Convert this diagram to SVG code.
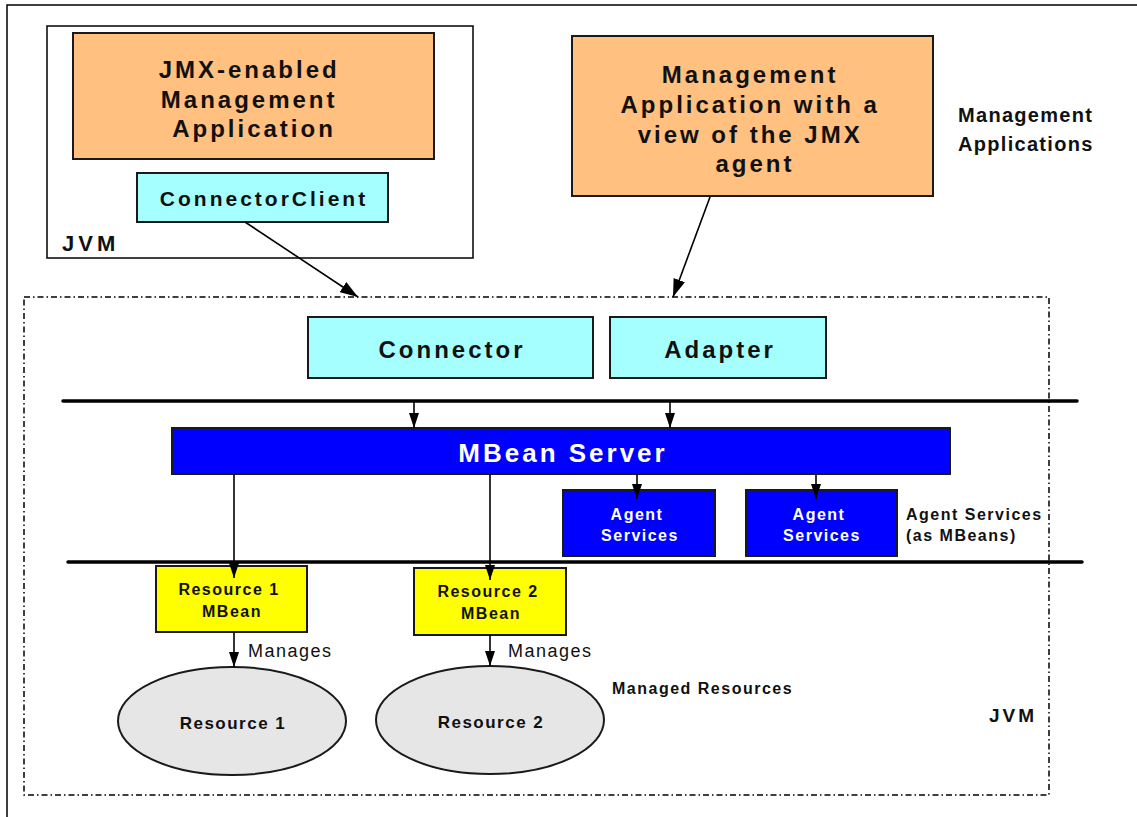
<svg xmlns="http://www.w3.org/2000/svg" width="1137" height="817" viewBox="0 0 1137 817">
  <style>
    .box { stroke: #1a1a1a; stroke-width: 2; }
    .orange { fill: #FFC080; }
    .cyan { fill: #A6FFFF; }
    .blue { fill: #0000FF; }
    .yellow { fill: #FFFF00; }
    .res { fill: #E6E6E6; stroke: #1a1a1a; stroke-width: 2; }
    .t { font-family: "Liberation Sans", Arial, sans-serif; font-weight: bold; fill: #111; }
    .big { font-size: 24px; letter-spacing: 3px; }
    .mid { font-size: 21px; letter-spacing: 3px; }
    .sm { font-size: 16px; letter-spacing: 1.5px; }
    .white { fill: #ffffff; }
    .reg { font-family: "Liberation Sans", Arial, sans-serif; font-size: 18px; letter-spacing: 1.5px; fill: #111; }
    .wire { stroke: #000; stroke-width: 1.6; fill: none; }
    .bus { stroke: #000; stroke-width: 3.5; stroke-linecap: round; }
    .frame { stroke: #000; stroke-width: 1.5; fill: none; }
    .agent { stroke: #000; stroke-width: 1.5; fill: none; stroke-dasharray: 6 3 1.5 3; }
  </style>
  <defs>
    <marker id="arrow" viewBox="0 0 10 10" preserveAspectRatio="none" refX="10" refY="5" markerWidth="15" markerHeight="10" markerUnits="userSpaceOnUse" orient="auto">
      <path d="M0,0 L10,5 L0,10 z" fill="#000"/>
    </marker>
    <marker id="arrowLg" viewBox="0 0 10 10" preserveAspectRatio="none" refX="10" refY="5" markerWidth="18" markerHeight="12" markerUnits="userSpaceOnUse" orient="auto">
      <path d="M0,0 L10,5 L0,10 z" fill="#000"/>
    </marker>
  </defs>

  <rect width="1137" height="817" fill="#ffffff"/>
  <!-- page frame -->
  <path class="frame" d="M7,817 V5 H1137"/>

  <!-- agent JVM boundary -->
  <rect id="agent-jvm" class="agent" x="24" y="297" width="1025" height="498"/>

  <!-- buses -->
  <line class="bus" x1="63" y1="401" x2="1077" y2="401"/>
  <line class="bus" x1="68" y1="562" x2="1082" y2="562"/>

  <!-- client JVM -->
  <g id="client-jvm">
    <rect class="frame" x="47" y="26" width="426" height="232" stroke-width="2"/>
    <text class="t" x="62" y="251" font-size="22" letter-spacing="4">JVM</text>
  </g>

  <g id="jmx-app">
    <rect class="box orange" x="73" y="33" width="361" height="126"/>
    <text class="t big" text-anchor="middle">
      <tspan x="254" y="78">JMX-enabled</tspan>
      <tspan x="254" y="108">Management</tspan>
      <tspan x="254" y="137">Application</tspan>
    </text>
  </g>

  <g id="connector-client">
    <rect class="box cyan" x="137" y="173" width="251" height="49"/>
    <text class="t mid" x="264" y="206" text-anchor="middle">ConnectorClient</text>
  </g>

  <g id="view-app">
    <rect class="box orange" x="572" y="36" width="361" height="160"/>
    <text class="t big" text-anchor="middle">
      <tspan x="755" y="83">Management</tspan>
      <tspan x="755" y="113">Application with a</tspan>
      <tspan x="755" y="143">view of the JMX</tspan>
      <tspan x="755" y="172">agent</tspan>
    </text>
  </g>

  <g id="label-management-apps">
    <text class="t" font-size="20" letter-spacing="1.3">
      <tspan x="958" y="122">Management</tspan>
      <tspan x="958" y="151">Applications</tspan>
    </text>
  </g>

  <g id="connector">
    <rect class="box cyan" x="308" y="317" width="285" height="61"/>
    <text class="t big" x="452" y="358" text-anchor="middle">Connector</text>
  </g>

  <g id="adapter">
    <rect class="box cyan" x="610" y="317" width="216" height="61"/>
    <text class="t big" x="720" y="358" text-anchor="middle">Adapter</text>
  </g>

  <g id="mbean-server">
    <rect class="box blue" x="172" y="428" width="778" height="46"/>
    <text class="t white" x="563" y="462" text-anchor="middle" font-size="26" letter-spacing="3">MBean Server</text>
  </g>

  <g id="agent-services-1">
    <rect class="box blue" x="563" y="490" width="152" height="66"/>
    <text class="t sm white" text-anchor="middle">
      <tspan x="640" y="520">Agent</tspan>
      <tspan x="640" y="541">Services</tspan>
    </text>
  </g>

  <g id="agent-services-2">
    <rect class="box blue" x="746" y="490" width="151" height="66"/>
    <text class="t sm white" text-anchor="middle">
      <tspan x="822" y="520">Agent</tspan>
      <tspan x="822" y="541">Services</tspan>
    </text>
  </g>

  <g id="label-agent-services">
    <text class="t sm">
      <tspan x="906" y="520">Agent Services</tspan>
      <tspan x="906" y="541">(as MBeans)</tspan>
    </text>
  </g>

  <g id="resource1-mbean">
    <rect class="box yellow" x="156" y="566" width="151" height="66"/>
    <text class="t sm" text-anchor="middle">
      <tspan x="232" y="595">Resource 1</tspan>
      <tspan x="232" y="617">MBean</tspan>
    </text>
  </g>

  <g id="resource2-mbean">
    <rect class="box yellow" x="414" y="568" width="152" height="67"/>
    <text class="t sm" text-anchor="middle">
      <tspan x="491" y="597">Resource 2</tspan>
      <tspan x="491" y="619">MBean</tspan>
    </text>
  </g>

  <g id="resource1">
    <ellipse class="res" cx="232" cy="721" rx="114" ry="54"/>
    <text class="t" x="233" y="729" text-anchor="middle" font-size="17" letter-spacing="1.5">Resource 1</text>
  </g>

  <g id="resource2">
    <ellipse class="res" cx="490" cy="720" rx="114" ry="54"/>
    <text class="t" x="491" y="728" text-anchor="middle" font-size="17" letter-spacing="1.5">Resource 2</text>
  </g>

  <g id="label-managed-resources">
    <text class="t sm" x="612" y="694">Managed Resources</text>
  </g>

  <g id="label-agent-jvm">
    <text class="t" x="989" y="722" font-size="19" letter-spacing="3">JVM</text>
  </g>

  <!-- connectors -->
  <g id="connectors">
    <line class="wire" x1="245" y1="222" x2="358" y2="297" marker-end="url(#arrowLg)"/>
    <line class="wire" x1="710" y1="197" x2="673" y2="297" marker-end="url(#arrowLg)"/>
    <line class="wire" x1="414" y1="401" x2="414" y2="428" marker-end="url(#arrow)"/>
    <line class="wire" x1="670" y1="401" x2="670" y2="428" marker-end="url(#arrow)"/>
    <line class="wire" x1="637" y1="474" x2="637" y2="499" marker-end="url(#arrow)"/>
    <line class="wire" x1="816" y1="474" x2="816" y2="499" marker-end="url(#arrow)"/>
    <line class="wire" x1="234" y1="474" x2="234" y2="578" marker-end="url(#arrow)"/>
    <line class="wire" x1="490" y1="474" x2="490" y2="580" marker-end="url(#arrow)"/>
    <line class="wire" x1="234" y1="632" x2="234" y2="667" marker-end="url(#arrow)"/>
    <line class="wire" x1="490" y1="635" x2="490" y2="666" marker-end="url(#arrow)"/>
    <text class="reg" x="248" y="657">Manages</text>
    <text class="reg" x="508" y="657">Manages</text>
  </g>
</svg>
